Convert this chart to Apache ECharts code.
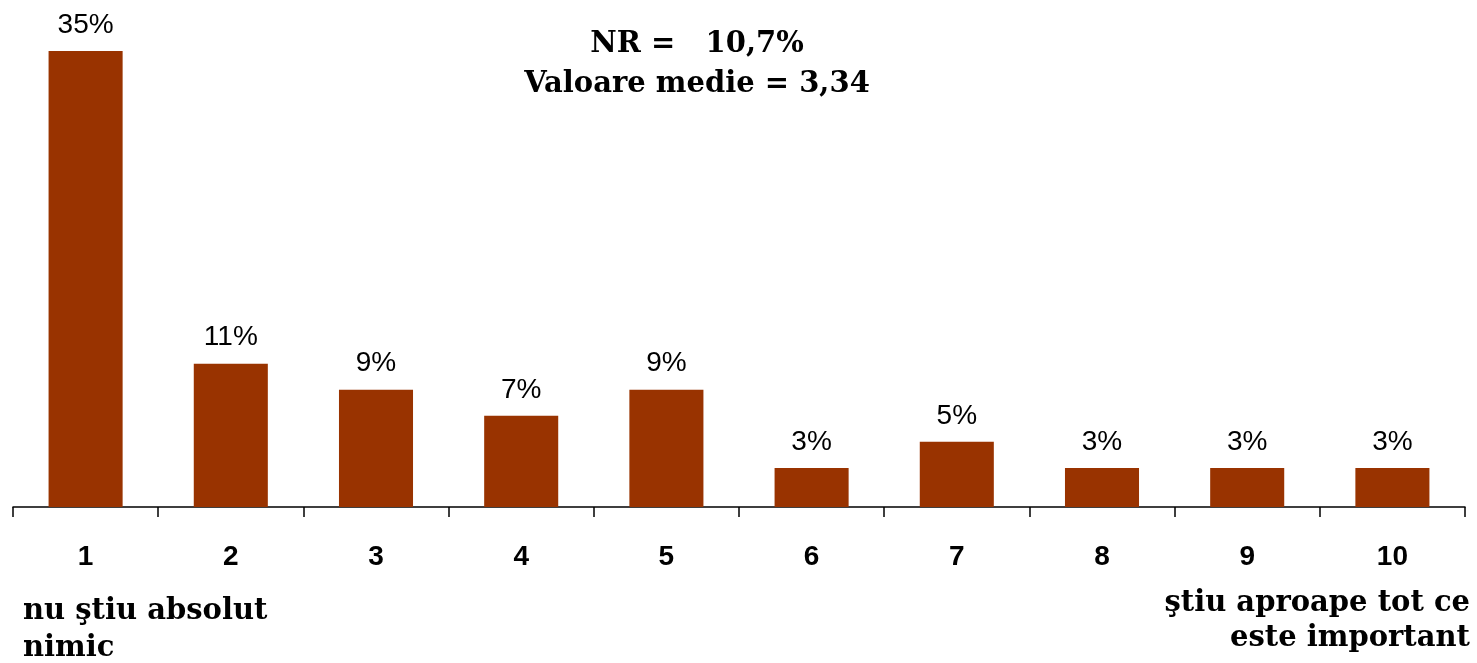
<!DOCTYPE html>
<html>
<head>
<meta charset="utf-8">
<script src="https://cdn.jsdelivr.net/npm/echarts@6/dist/echarts.min.js"></script>
<style>
  html, body { margin: 0; padding: 0; background: #fff; }
  #chart { width: 1477px; height: 663px; }
</style>
</head>
<body>
<div id="chart"></div>
<script>
// date
var categorii = ['1', '2', '3', '4', '5', '6', '7', '8', '9', '10'];
var procente = [35, 11, 9, 7, 9, 3, 5, 3, 3, 3];
var titlu = ['NR =   10,7%', 'Valoare medie = 3,34'];
var capatStanga = 'nu ştiu absolut\nnimic';
var capatDreapta = 'ştiu aproape tot ce\neste important';

var serif = '"DejaVu Serif", "Liberation Serif", serif';

var myChart = echarts.init(document.getElementById('chart'));

var option = {
    animation: false,
    grid: { left: 13, right: 12, top: 51, bottom: 156 },
    graphic: [
        {
            type: 'text', x: 697, y: 24,
            style: {
                text: titlu.join('\n'), font: 'bold 29px ' + serif,
                fill: '#000', align: 'center', lineHeight: 40
            }
        },
        {
            type: 'text', x: 23, y: 593,
            style: { text: capatStanga, font: 'bold 29px ' + serif, fill: '#000', lineHeight: 37 }
        },
        {
            type: 'text', x: 1470, y: 586,
            style: { text: capatDreapta, font: 'bold 29px ' + serif, fill: '#000', align: 'right', lineHeight: 35 }
        }
    ],
    xAxis: {
        type: 'category',
        data: categorii,
        axisLine: { lineStyle: { color: '#000', width: 1.5 } },
        axisTick: { show: true, length: 10, lineStyle: { color: '#000', width: 1.5 } },
        axisLabel: {
            color: '#000', fontFamily: 'Liberation Sans, Arial, sans-serif',
            fontWeight: 'bold', fontSize: 28, margin: 36
        }
    },
    yAxis: {
        type: 'value',
        min: 0, max: 35,
        show: false,
        splitLine: { show: false }
    },
    series: [{
        type: 'bar',
        data: procente,
        barWidth: '51%',
        itemStyle: { color: '#993300' },
        label: {
            show: true, position: 'top', distance: 12,
            formatter: '{c}%', color: '#000',
            fontFamily: 'Liberation Sans, Arial, sans-serif', fontSize: 28
        }
    }]
};

myChart.setOption(option);
</script>
</body>
</html>
